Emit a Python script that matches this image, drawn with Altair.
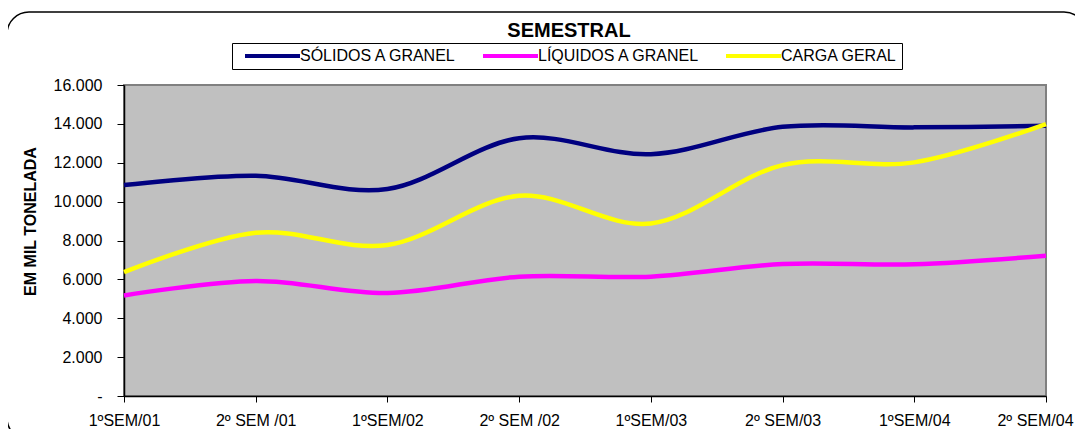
import altair as alt
import pandas as pd

periodos = ["1ºSEM/01", "2º SEM /01", "1ºSEM/02", "2º SEM /02",
            "1ºSEM/03", "2º SEM/03", "1ºSEM/04", "2º SEM/04"]
series = ["SÓLIDOS A GRANEL", "LÍQUIDOS A GRANEL", "CARGA GERAL"]
solidos = [10850, 11330, 10650, 13260, 12440, 13850, 13820, 13900]
liquidos = [5170, 5920, 5300, 6140, 6140, 6790, 6780, 7220]
carga = [6370, 8400, 7770, 10300, 8880, 11880, 12020, 13990]
cores = ["#000080", "#FF00FF", "#FFFF00"]
y_ticks = [0, 2000, 4000, 6000, 8000, 10000, 12000, 14000, 16000]

rows = []
for nome, vals in zip(series, [solidos, liquidos, carga]):
    for p, v in zip(periodos, vals):
        rows.append({"periodo": p, "serie": nome, "valor": v})
df = pd.DataFrame(rows)

FONT = "Liberation Sans"

lines = alt.Chart(df).mark_line(interpolate="cardinal", strokeWidth=4.5).encode(
    x=alt.X("periodo:N", sort=periodos,
            scale=alt.Scale(type="point", padding=0),
            axis=alt.Axis(title=None, labelAngle=0, labelFont=FONT, labelFontSize=16,
                          labelColor="black", tickColor="black", tickSize=6,
                          domainColor="black", domainWidth=1.5, labelPadding=10,
                          labelBaseline="top",
                          labelOffset={"condition": {"test": "datum.value === '2º SEM/04'", "value": -11}, "value": 0})),
    y=alt.Y("valor:Q", scale=alt.Scale(domain=[0, 16000], nice=False),
            axis=alt.Axis(values=y_ticks, title="EM MIL TONELADA", grid=False,
                          labelExpr="datum.value == 0 ? '-\u00a0\u00a0\u00a0\u00a0' : replace(format(datum.value, ','), ',', '.')",
                          labelFont=FONT, labelFontSize=16, labelColor="black",
                          tickColor="black", tickSize=7, labelPadding=15,
                          domainColor="black", domainWidth=1.5,
                          titleFont=FONT, titleFontSize=16, titleFontWeight="bold",
                          titleColor="black", titleX=-86, titleY=136,
                          titleAngle=270, titleAlign="center", titleBaseline="bottom")),
    color=alt.Color("serie:N", sort=series,
                    scale=alt.Scale(domain=series, range=cores),
                    legend=alt.Legend(title=None, orient="none", legendX=108, legendY=-42,
                                      direction="horizontal",
                                      symbolType="M0,0H10", symbolSize=121,
                                      symbolStrokeWidth=4,
                                      labelFont=FONT, labelFontSize=16, labelColor="black",
                                      labelLimit=400, labelOffset=47,
                                      strokeColor="black", fillColor="white",
                                      padding=5, columnPadding=18)),
)

title = alt.Chart(alt.Data(values=[{}])).mark_text(
    text="SEMESTRAL", font=FONT, fontSize=20, fontWeight="bold",
    align="center", baseline="alphabetic", color="black"
).encode(x=alt.value(445), y=alt.value(-48))

frame = alt.Chart(alt.Data(values=[{}])).mark_rect(
    fillOpacity=0, stroke="black", strokeWidth=1.5, cornerRadius=22
).encode(x=alt.value(-117), x2=alt.value(962), y=alt.value(-73), y2=alt.value(355))

chart = alt.layer(frame, lines, title).properties(
    width=922, height=311,
    padding={"left": 116, "top": 77, "right": 29, "bottom": 33},
    autosize=alt.AutoSizeParams(type="none"),
    background="white",
).configure_view(fill="#C0C0C0", stroke="#808080", strokeWidth=2)

chart.save("out.html", embed_options={"renderer": "svg", "actions": False})
